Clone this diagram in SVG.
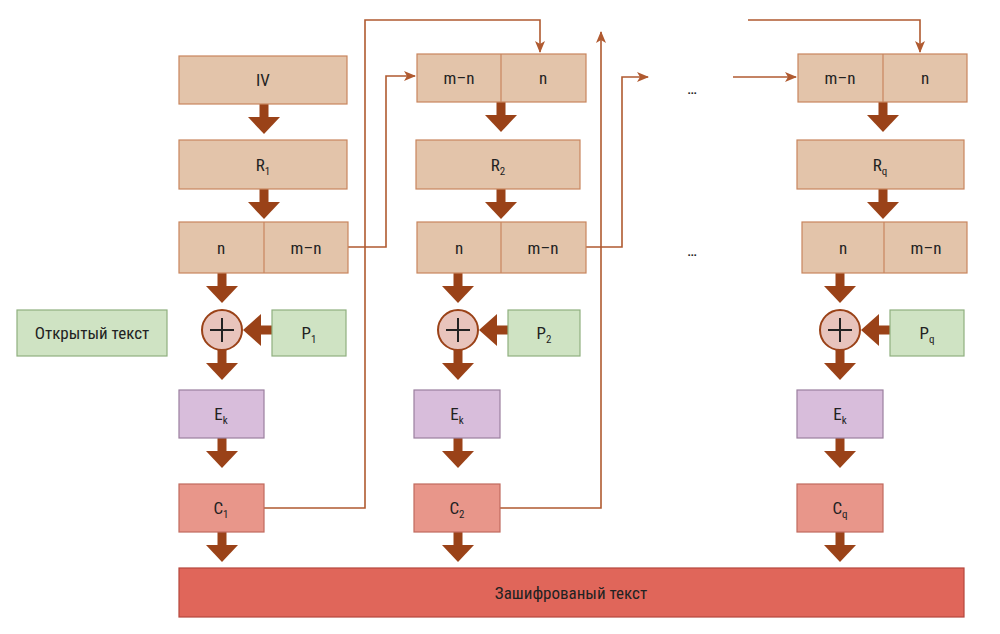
<svg xmlns="http://www.w3.org/2000/svg" width="1000" height="634" viewBox="0 0 1000 634">
<defs>
<style>
text{font-family:"Roboto Condensed","Liberation Sans Narrow","Liberation Sans",sans-serif;font-size:17px;fill:#222;text-anchor:middle;dominant-baseline:central}
.s{font-size:11px}
.b{fill:#e3c4aa;stroke:#c8855e;stroke-width:1.2}
.g{fill:#cfe3c3;stroke:#8fb07f;stroke-width:1.2}
.p{fill:#d8bddb;stroke:#9b7f9f;stroke-width:1.2}
.c{fill:#e8968a;stroke:#c06a5e;stroke-width:1.2}
.r{fill:#e0665a;stroke:#b5473d;stroke-width:1.2}
.x{fill:#e8c4bc;stroke:#9a4218;stroke-width:2}
.t{fill:none;stroke:#b05a30;stroke-width:1.6}
.k{fill:#9a4218}
</style>
<marker id="a" markerWidth="12" markerHeight="10" refX="11" refY="5" orient="auto" markerUnits="userSpaceOnUse"><path d="M0,0 L12,5 L0,10 L3,5 Z" fill="#b05a30"/></marker>
<g id="dn"><rect x="-4.5" y="0" width="9" height="14" class="k"/><path d="M-16,13 L16,13 L0,30 Z" class="k"/></g>
<g id="lf"><rect x="17" y="-4.5" width="14" height="9" class="k"/><path d="M18,-16 L18,16 L0,0 Z" class="k"/></g>
</defs>
<g id="connectors">
<path class="t" d="M264,508 H365 V20 H540 V52" marker-end="url(#a)"/>
<path class="t" d="M348,247 H386 V76 H415" marker-end="url(#a)"/>
<path class="t" d="M500,508 H601 V32" marker-end="url(#a)"/>
<path class="t" d="M586,247 H622 V77 H648" marker-end="url(#a)"/>
<path class="t" d="M733,77 H796" marker-end="url(#a)"/>
<path class="t" d="M748,20 H920 V52" marker-end="url(#a)"/>
<use href="#dn" x="264" y="104"/><use href="#dn" x="264" y="189"/><use href="#dn" x="222" y="273"/><use href="#lf" x="243" y="330"/><use href="#dn" x="222" y="350"/><use href="#dn" x="222" y="438"/><use href="#dn" x="222" y="532"/>
<use href="#dn" x="501" y="102"/><use href="#dn" x="501" y="189"/><use href="#dn" x="458" y="273"/><use href="#lf" x="479" y="330"/><use href="#dn" x="458" y="350"/><use href="#dn" x="458" y="438"/><use href="#dn" x="458" y="532"/>
<use href="#dn" x="883" y="102"/><use href="#dn" x="883" y="189"/><use href="#dn" x="840" y="273"/><use href="#lf" x="861" y="330"/><use href="#dn" x="840" y="350"/><use href="#dn" x="840" y="438"/><use href="#dn" x="840" y="532"/>
</g>
<g id="iv"><rect class="b" x="179" y="56" width="168" height="48"/><text x="263" y="80">IV</text></g>
<g id="r1"><rect class="b" x="179" y="140" width="168" height="49"/><text x="263" y="165">R<tspan class="s" dy="6">1</tspan></text></g>
<g id="nm1"><rect class="b" x="179" y="222" width="169" height="51"/><line x1="264" y1="222" x2="264" y2="273" stroke="#c8855e" stroke-width="1.2"/><text x="221" y="248">n</text><text x="306" y="248">m–n</text></g>
<g id="open"><rect class="g" x="17" y="310" width="150" height="46"/><text x="92" y="333">Открытый текст</text></g>
<g id="xor1"><circle class="x" cx="222" cy="330" r="20"/><path d="M210,330 H234 M222,318 V342" stroke="#222" stroke-width="2"/></g>
<g id="p1"><rect class="g" x="272" y="310" width="74" height="46"/><text x="309" y="333">P<tspan class="s" dy="6">1</tspan></text></g>
<g id="ek1"><rect class="p" x="179" y="390" width="85" height="48"/><text x="221" y="414">E<tspan class="s" dy="6">k</tspan></text></g>
<g id="c1"><rect class="c" x="179" y="484" width="85" height="48"/><text x="221" y="508">C<tspan class="s" dy="6">1</tspan></text></g>
<g id="mn2"><rect class="b" x="417" y="54" width="169" height="48"/><line x1="501" y1="54" x2="501" y2="102" stroke="#c8855e" stroke-width="1.2"/><text x="459" y="78">m–n</text><text x="543" y="78">n</text></g>
<g id="r2"><rect class="b" x="416" y="140" width="164" height="49"/><text x="498" y="165">R<tspan class="s" dy="6">2</tspan></text></g>
<g id="nm2"><rect class="b" x="417" y="222" width="169" height="51"/><line x1="501" y1="222" x2="501" y2="273" stroke="#c8855e" stroke-width="1.2"/><text x="459" y="248">n</text><text x="543" y="248">m–n</text></g>
<g id="xor2"><circle class="x" cx="458" cy="330" r="20"/><path d="M446,330 H470 M458,318 V342" stroke="#222" stroke-width="2"/></g>
<g id="p2"><rect class="g" x="508" y="310" width="72" height="46"/><text x="544" y="333">P<tspan class="s" dy="6">2</tspan></text></g>
<g id="ek2"><rect class="p" x="414" y="390" width="86" height="48"/><text x="457" y="414">E<tspan class="s" dy="6">k</tspan></text></g>
<g id="c2"><rect class="c" x="414" y="484" width="86" height="48"/><text x="457" y="508">C<tspan class="s" dy="6">2</tspan></text></g>
<g id="dots"><text x="692" y="88">…</text><text x="692" y="250">…</text></g>
<g id="mnq"><rect class="b" x="798" y="54" width="169" height="48"/><line x1="883" y1="54" x2="883" y2="102" stroke="#c8855e" stroke-width="1.2"/><text x="840" y="78">m–n</text><text x="925" y="78">n</text></g>
<g id="rq"><rect class="b" x="797" y="140" width="167" height="49"/><text x="880" y="165">R<tspan class="s" dy="6">q</tspan></text></g>
<g id="nmq"><rect class="b" x="802" y="222" width="165" height="51"/><line x1="884" y1="222" x2="884" y2="273" stroke="#c8855e" stroke-width="1.2"/><text x="843" y="248">n</text><text x="926" y="248">m–n</text></g>
<g id="xorq"><circle class="x" cx="840" cy="330" r="20"/><path d="M828,330 H852 M840,318 V342" stroke="#222" stroke-width="2"/></g>
<g id="pq"><rect class="g" x="890" y="310" width="74" height="46"/><text x="927" y="333">P<tspan class="s" dy="6">q</tspan></text></g>
<g id="ekq"><rect class="p" x="797" y="390" width="86" height="48"/><text x="840" y="414">E<tspan class="s" dy="6">k</tspan></text></g>
<g id="cq"><rect class="c" x="797" y="484" width="86" height="48"/><text x="840" y="508">C<tspan class="s" dy="6">q</tspan></text></g>
<g id="cipher"><rect class="r" x="179" y="568" width="785" height="49"/><text x="571" y="593">Зашифрованый текст</text></g>
</svg>
